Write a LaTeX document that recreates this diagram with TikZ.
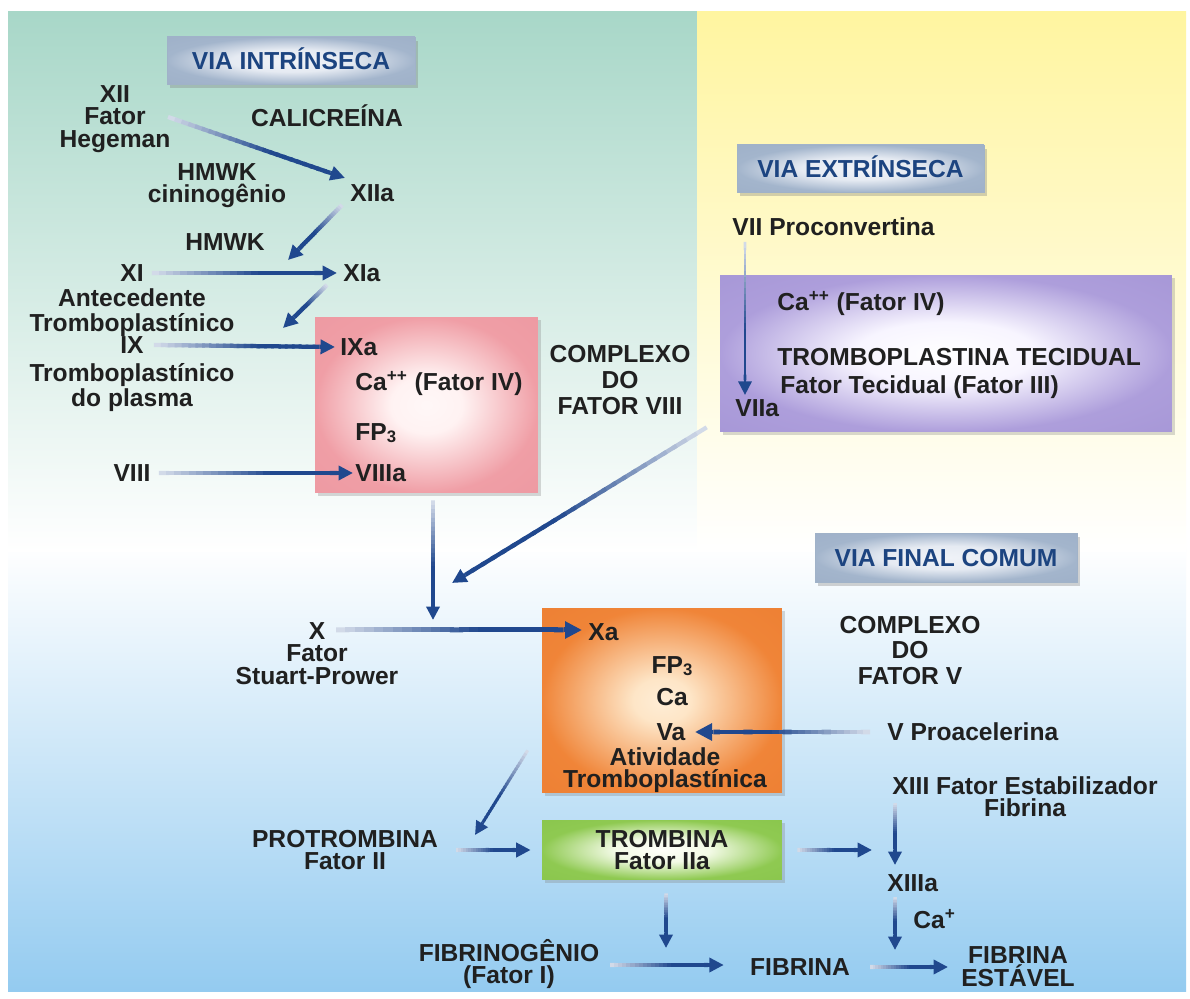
\documentclass[tikz,border=0pt]{standalone}
\usepackage{fontspec}
\setmainfont{Liberation Sans}
\usetikzlibrary{arrows.meta,shadows,calc}

\definecolor{txt}{RGB}{32,32,32}
\definecolor{lbl}{RGB}{28,68,128}
\definecolor{arr}{RGB}{32,72,142}
\definecolor{bggreen}{RGB}{168,215,200}
\definecolor{bgyellow}{RGB}{255,245,160}
\definecolor{bgblue}{RGB}{148,203,240}
\definecolor{labB}{RGB}{160,178,200}

\pgfdeclareradialshading{labglow}{\pgfpoint{0bp}{0bp}}{rgb(0bp)=(0.94,0.95,0.97); rgb(12bp)=(0.9,0.92,0.95); rgb(25bp)=(0.64,0.71,0.8); rgb(50bp)=(0.6,0.67,0.77)}
\pgfdeclareradialshading{pinkglow}{\pgfpoint{0bp}{0bp}}{rgb(0bp)=(1,0.97,0.97); rgb(8bp)=(1,0.95,0.95); rgb(25bp)=(0.94,0.62,0.65); rgb(50bp)=(0.92,0.58,0.62)}
\pgfdeclareradialshading{purglow}{\pgfpoint{0bp}{0bp}}{rgb(0bp)=(1,1,1); rgb(10bp)=(0.97,0.96,1); rgb(25bp)=(0.68,0.62,0.86); rgb(50bp)=(0.62,0.56,0.82)}
\pgfdeclareradialshading{oraglow}{\pgfpoint{0bp}{0bp}}{rgb(0bp)=(1,0.93,0.84); rgb(6bp)=(0.995,0.9,0.78); rgb(25bp)=(0.94,0.52,0.22); rgb(50bp)=(0.92,0.48,0.18)}
\pgfdeclareradialshading{grnglow}{\pgfpoint{0bp}{0bp}}{rgb(0bp)=(1,1,0.98); rgb(10bp)=(0.95,0.98,0.9); rgb(25bp)=(0.56,0.79,0.32); rgb(50bp)=(0.52,0.76,0.28)}

\newcommand{\farrow}[3][0.085]{%
  \pgfmathsetmacro\fatip{max(#1*3.4,0.27)}%
  \pgfmathsetmacro\fahl{\fatip*1.08}%
  \coordinate (fahead) at ($(#3)!\fahl cm!(#2)$);
  \foreach \k in {0,...,23}{%
    \pgfmathsetmacro\fata{\k/24}%
    \pgfmathsetmacro\fatb{min(1,(\k+1.4)/24)}%
    \pgfmathtruncatemacro\fapc{min(100,20+\k*5.5)}%
    \draw[line width=#1cm, draw=arr!\fapc!white] ($(#2)!\fata!(fahead)$) -- ($(#2)!\fatb!(fahead)$);
  }%
  \draw[line width=#1cm, draw=arr, -{Triangle[length=\fatip cm, width=0.97*\fatip cm]}] (fahead) -- (#3);
}

\tikzset{
  txtn/.style={inner sep=0pt, text=txt, align=center, font=\bfseries\fontsize{14}{12.5}\selectfont},
  lsk/.style={font=\bfseries\fontsize{14}{#1}\selectfont},
  oneline/.style={txtn, text height=0.353cm, text depth=0cm},
  labbox/.style={draw=labB, line width=0.4pt, shading=labglow, text=lbl, inner sep=0pt,
    font=\bfseries\fontsize{14}{14}\selectfont, text height=0.353cm, text depth=0cm,
    drop shadow={shadow xshift=0.06cm, shadow yshift=-0.08cm, opacity=0.35}},
  cbox/.style={inner sep=0pt, drop shadow={shadow xshift=0.06cm, shadow yshift=-0.06cm, opacity=0.3}},
}

\begin{document}
\begin{tikzpicture}[x=0.02cm,y=-0.02cm]
\useasboundingbox (0,0) rectangle (1190,999);
\fill[white] (0,0) rectangle (1190,999);
% backgrounds
\shade[top color=white, bottom color=bgblue] (8,545) rectangle (1186,991);
\shade[top color=bggreen, middle color=bggreen!60!white, bottom color=white] (8,12) rectangle (697,552);
\shade[top color=bgyellow, middle color=bgyellow!55!white, bottom color=white] (697,12) rectangle (1186,552);

% labels
\node[labbox, minimum width=4.96cm, minimum height=0.94cm] (vint) at (291,60.5) {VIA INTRÍNSECA};
\node[labbox, minimum width=4.94cm, minimum height=0.94cm] (vext) at (860.5,168.5) {VIA EXTRÍNSECA};
\node[labbox, minimum width=5.24cm, minimum height=0.98cm] (vfin) at (946,557.5) {VIA FINAL COMUM};

% boxes
\node[cbox, shading=pinkglow, minimum width=4.46cm, minimum height=3.52cm] (pinkbox) at (426.5,405) {};
\node[cbox, shading=purglow, minimum width=9.04cm, minimum height=3.14cm] (purbox) at (946,353.5) {};
\node[cbox, shading=oraglow, minimum width=4.8cm, minimum height=3.7cm] (orabox) at (662,700.5) {};
\node[cbox, shading=grnglow, minimum width=4.8cm, minimum height=1.2cm, txtn, lsk=12.8] (trombina) at (662,850) {TROMBINA\\Fator IIa};

% intrinsic texts
\node[txtn, lsk=12.8] (xii) at (115,119) {XII\\Fator\\Hegeman};
\node[oneline] (cal) at (327,118) {CALICREÍNA};
\node[txtn, lsk=12.5] (hmwk1) at (217,185.5) {HMWK\\cininogênio};
\node[oneline, anchor=west] (xiia) at (350,193) {XIIa};
\node[oneline] (hmwk2) at (225,242) {HMWK};
\node[oneline] (xi) at (132,273) {XI};
\node[oneline, anchor=west] (xia) at (343,273) {XIa};
\node[txtn, lsk=14.2] (ante) at (132,313) {Antecedente\\Tromboplastínico};
\node[oneline] (ix) at (132,345) {IX};
\node[txtn, lsk=14.2] (trplas) at (132,388) {Tromboplastínico\\do plasma};
\node[oneline] (viii) at (132,473) {VIII};
\node[oneline, anchor=west] (ixa) at (340,347) {IXa};
\node[oneline, anchor=west] (ca1) at (355,382) {Ca\textsuperscript{++} (Fator IV)};
\node[oneline, anchor=west] (fp3a) at (355,432) {FP\raisebox{-1pt}{\fontsize{9.5}{9.5}\selectfont 3}};
\node[oneline, anchor=west] (viiia) at (355,473) {VIIIa};
\node[txtn, lsk=14.8] (cf8) at (620,380.5) {COMPLEXO\\DO\\FATOR VIII};

% extrinsic texts
\node[oneline, anchor=west] (vii) at (732,227) {VII Proconvertina};
\node[oneline, anchor=west] (ca2) at (777,302) {Ca\textsuperscript{++} (Fator IV)};
\node[oneline, anchor=west] (tromb) at (777,357) {TROMBOPLASTINA TECIDUAL};
\node[oneline, anchor=west] (ftec) at (780,385) {Fator Tecidual (Fator III)};
\node[oneline, anchor=west] (viia) at (735,408) {VIIa};

% common pathway texts
\node[txtn, lsk=12.8] (xf) at (317,653.5) {X\\Fator\\Stuart-Prower};
\node[oneline, anchor=west] (xa) at (588,632) {Xa};
\node[oneline] (fp3b) at (672,665) {FP\raisebox{-1pt}{\fontsize{9.5}{9.5}\selectfont 3}};
\node[oneline] (ca3) at (672,697) {Ca};
\node[oneline] (va) at (671,732) {Va};
\node[txtn, lsk=12.8] (ativ) at (665,770) {Atividade\\Tromboplastínica};
\node[txtn, lsk=14.5] (cf5) at (910,650.5) {COMPLEXO\\DO\\FATOR V};
\node[oneline, anchor=west] (vpro) at (887,732) {V Proacelerina};
\node[txtn, lsk=12.5] (xiii) at (1025,797) {XIII Fator Estabilizador\\Fibrina};
\node[txtn, lsk=12.5] (protr) at (345,850) {PROTROMBINA\\Fator II};
\node[oneline, anchor=west] (xiiia) at (887,883) {XIIIa};
\node[oneline, anchor=west] (caplus) at (913,920) {Ca\textsuperscript{+}};
\node[txtn, lsk=12.5] (fibrinog) at (509,964) {FIBRINOGÊNIO\\(Fator I)};
\node[oneline] (fibrina) at (800,967) {FIBRINA};
\node[txtn, lsk=13] (fibest) at (1018,966.5) {FIBRINA\\ESTÁVEL};

% connector end points
\coordinate (s1) at (168,117);  \coordinate (e1) at ($(xiia.west)+(-5,-15)$);
\coordinate (s2) at ($(xiia.west)+(-8,12)$); \coordinate (e2) at (288,260);
\coordinate (s3) at ($(xi.east)+(8,0)$);  \coordinate (e3) at ($(xia.west)+(-6,0)$);
\coordinate (s4) at ($(xia.west)+(-16,12)$); \coordinate (e4) at (283,328);
\coordinate (s5) at ($(ix.east)+(10,0)$); \coordinate (e5) at ($(ixa.west)+(-5,0)$);
\coordinate (s6) at ($(viii.east)+(8,0)$); \coordinate (e6) at ($(viiia.west)+(-2,0)$);
\coordinate (s7) at (745,242); \coordinate (e7) at (745,395);
\coordinate (s8) at ($(purbox.south west)+(-13,-5)$); \coordinate (e8) at (452,583);
\coordinate (s9) at ($(pinkbox.south)+(6.5,7)$); \coordinate (e9) at (433,620);
\coordinate (s10) at (336,630); \coordinate (e10) at ($(xa.west)+(-6,-2)$);
\coordinate (s11) at ($(vpro.west)+(-17,0)$); \coordinate (e11) at (695,732);
\coordinate (s12) at ($(orabox.south west)+(-14,-43)$); \coordinate (e12) at (475,835);
\coordinate (s13) at (456,850); \coordinate (e13) at ($(trombina.west)+(-11,0)$);
\coordinate (s14) at ($(trombina.east)+(15,0)$); \coordinate (e14) at (872,850);
\coordinate (s15) at (895,803); \coordinate (e15) at (895,865);
\coordinate (s16) at (895,897); \coordinate (e16) at (895,950);
\coordinate (s17) at ($(trombina.south)+(4,13)$); \coordinate (e17) at (666,948);
\coordinate (s18) at (610,965); \coordinate (e18) at ($(fibrina.west)+(-26,-2)$);
\coordinate (s19) at ($(fibrina.east)+(20,0)$); \coordinate (e19) at (948,967);

% connectors
\farrow{s1}{e1}
\farrow{s2}{e2}
\farrow{s3}{e3}
\farrow{s4}{e4}
\farrow{s5}{e5}
\farrow{s6}{e6}
\farrow[0.055]{s7}{e7}
\farrow{s8}{e8}
\farrow[0.075]{s9}{e9}
\farrow[0.1]{s10}{e10}
\farrow[0.1]{s11}{e11}
\farrow[0.06]{s12}{e12}
\farrow{s13}{e13}
\farrow{s14}{e14}
\farrow[0.07]{s15}{e15}
\farrow[0.07]{s16}{e16}
\farrow[0.07]{s17}{e17}
\farrow{s18}{e18}
\farrow{s19}{e19}
\end{tikzpicture}
\end{document}
